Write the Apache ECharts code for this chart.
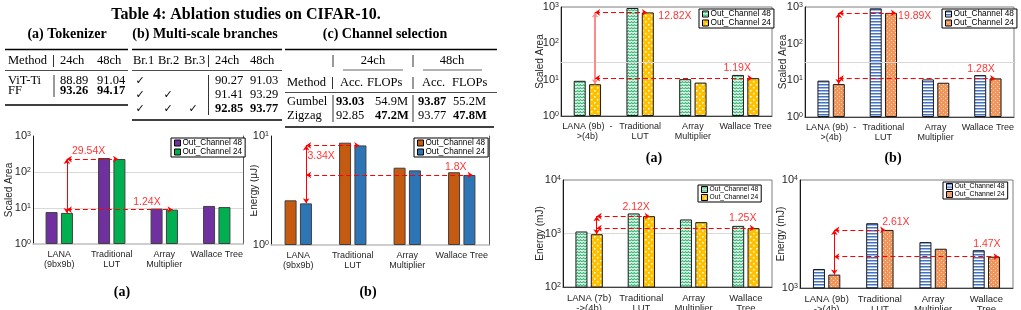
<!DOCTYPE html>
<html lang="en">
<head>
<meta charset="UTF-8">
<title>Ablation studies and hardware cost</title>
<script src="https://cdn.jsdelivr.net/npm/echarts@6/dist/echarts.min.js"></script>
<style>
  body { margin: 0; background: #fff; }
  #page { position: relative; width: 1021px; height: 310px; overflow: hidden; }
  #page > div { position: absolute; }
</style>
</head>
<body>
<div id="page"></div>
<script>
// ---------- table data ----------
var tokMethods = ['ViT-Ti', 'FF'];
var tok24 = ['88.89', '93.26'];
var tok48 = ['91.04', '94.17'];
var brChecks = [[1, 0, 0], [1, 1, 0], [1, 1, 1]];
var br24 = ['90.27', '91.41', '92.85'];
var br48 = ['91.03', '93.29', '93.77'];
var chMethods = ['Gumbel', 'Zigzag'];
var chAcc24 = ['93.03', '92.85'];
var chFlops24 = ['54.9M', '47.2M'];
var chAcc48 = ['93.87', '93.77'];
var chFlops48 = ['55.2M', '47.8M'];

// ---------- chart data ----------
var legendNames = ['Out_Channel 48', 'Out_Channel 24'];
var catsLeft = ['LANA\n(9bx9b)', 'Traditional\nLUT', 'Array\nMultiplier', 'Wallace Tree'];
var catsTop = ['LANA (9b)  -\n>(4b)', 'Traditional\nLUT', 'Array\nMultiplier', 'Wallace Tree'];
var catsBotA = ['LANA (7b)\n->(4b)', 'Traditional\nLUT', 'Array\nMultiplier', 'Wallace\nTree'];
var catsBotB = ['LANA (9b)\n->(4b)', 'Traditional\nLUT', 'Array\nMultiplier', 'Wallace\nTree'];

var areaL48 = [7.7, 245, 9.6, 11.4];
var areaL24 = [7.3, 229, 9.0, 10.6];
var energyL48 = [2.57, 8.68, 5.12, 4.65];
var energyL24 = [2.41, 8.2, 4.84, 4.39];
var areaRa48 = [9.3, 940, 10.3, 13.5];
var areaRa24 = [7.5, 710, 8.3, 11.0];
var areaRb48 = [9.8, 920, 10.6, 13.9];
var areaRb24 = [7.9, 690, 8.6, 11.3];
var energyRa48 = [1090, 2370, 1830, 1390];
var energyRa24 = [970, 2110, 1630, 1260];
var energyRb48 = [1500, 3980, 2660, 2240];
var energyRb24 = [1330, 3450, 2310, 1950];

var ratiosLa = ['29.54X', '1.24X'];
var ratiosLb = ['3.34X', '1.8X'];
var ratiosRa = ['12.82X', '1.19X'];
var ratiosRb = ['19.89X', '1.28X'];
var ratiosBa = ['2.12X', '1.25X'];
var ratiosBb = ['2.61X', '1.47X'];

var SANS = '"Liberation Sans", Arial, sans-serif';
var SERIF = '"Liberation Serif", "Times New Roman", serif';

// ---------- bar fill patterns ----------
function pattern(w, h, draw) {
    var c = document.createElement('canvas');
    c.width = w; c.height = h;
    draw(c.getContext('2d'));
    return { image: c, repeat: 'repeat' };
}
var greenWave = pattern(6, 6, function (g) {
    g.fillStyle = '#fff'; g.fillRect(0, 0, 6, 6);
    g.strokeStyle = '#3dbb7a'; g.lineWidth = 1.2;
    g.beginPath();
    g.moveTo(0, 2); g.lineTo(1.5, 0.5); g.lineTo(3, 2); g.lineTo(4.5, 0.5); g.lineTo(6, 2);
    g.moveTo(0, 5); g.lineTo(1.5, 3.5); g.lineTo(3, 5); g.lineTo(4.5, 3.5); g.lineTo(6, 5);
    g.stroke();
});
var yellowDots = pattern(6, 6, function (g) {
    g.fillStyle = '#ffc000'; g.fillRect(0, 0, 6, 6);
    g.fillStyle = '#fff';
    g.fillRect(0, 0, 1.5, 1.5); g.fillRect(3, 3, 1.5, 1.5);
});
var blueStripes = pattern(4, 3, function (g) {
    g.fillStyle = '#fff'; g.fillRect(0, 0, 4, 3);
    g.fillStyle = '#4472c4'; g.fillRect(0, 0, 4, 1.5);
});
var orangeDots = pattern(4, 4, function (g) {
    g.fillStyle = '#f0955a'; g.fillRect(0, 0, 4, 4);
    g.fillStyle = '#fde3d0';
    g.fillRect(0, 0, 1, 1); g.fillRect(2, 2, 1, 1);
});

// ---------- chart layouts ----------
var charts = [
    { region: [0, 130, 250, 180], grid: [33, 136, 243, 244], yMin: 1, yMax: 1000, yName: 'Scaled Area', nameGap: 19,
      cats: catsLeft, catFont: 9, s48: areaL48, s24: areaL24, colors: ['#7030a0', '#00b050'], border: '#404040',
      legend: [171, 138], legendFont: 8.2, split: true, box: false,
      ann: { vx: 0.645, x1: 1.62, x2: 2.66, mid: 2, vColor: '#ff0000', vWidth: 1 },
      ratios: ratiosLa, ratioPos: [[1.06, 380], [2.17, 14.5]], caption: ['(a)', 122, 292] },
    { region: [250, 130, 250, 180], grid: [271, 136, 489, 245], yMin: 1, yMax: 10, yName: 'Energy (\u03bcJ)', nameGap: 12,
      cats: catsLeft, catFont: 9, s48: energyL48, s24: energyL24, colors: ['#c55a11', '#2e75b6'], border: '#404040',
      legend: [414, 138], legendFont: 8.2, split: false, box: false,
      ann: { vx: 0.645, x1: 1.62, x2: 3.70, mid: 3, vColor: '#ff0000', vWidth: 1 },
      ratios: ratiosLb, ratioPos: [[0.92, 6.6], [3.39, 5.23]], caption: ['(b)', 368, 292] },
    { region: [510, 0, 265, 170], grid: [561, 7, 772, 116], yMin: 1, yMax: 1000, yName: 'Scaled Area', nameGap: 16,
      cats: catsTop, catFont: 9, s48: areaRa48, s24: areaRa24, colors: [greenWave, yellowDots], border: '#1a1a1a',
      legend: [699, 9], legendFont: 8.3, split: false, box: true, refLine: 31,
      ann: { vx: 0.645, x1: 1.63, x2: 3.63, mid: 3, vColor: '#ff8a8a', vWidth: 2 },
      ratios: ratiosRa, ratioPos: [[2.16, 578], [3.34, 21.4]], caption: ['(a)', 654, 158] },
    { region: [775, 0, 246, 170], grid: [805, 7, 1014, 117], yMin: 1, yMax: 1000, yName: 'Scaled Area', nameGap: 17,
      cats: catsTop, catFont: 9, s48: areaRb48, s24: areaRb24, colors: [blueStripes, orangeDots], border: '#1a1a1a',
      legend: [942, 9], legendFont: 8.3, split: false, box: true, refLine: 31,
      ann: { vx: 0.645, x1: 1.74, x2: 3.64, mid: 3, vColor: '#ff0000', vWidth: 1 },
      ratios: ratiosRb, ratioPos: [[2.1, 565], [3.37, 20]], caption: ['(b)', 893, 158] },
    { region: [510, 170, 265, 140], grid: [563, 180, 772, 287], yMin: 100, yMax: 10000, yName: 'Energy (mJ)', nameGap: 18,
      cats: catsBotA, catFont: 9.5, s48: energyRa48, s24: energyRa24, colors: [greenWave, yellowDots], border: '#1a1a1a',
      legend: [698, 185], legendFont: 6.7, split: true, box: true,
      ann: { vx: 0.645, x1: 1.66, x2: 3.67, mid: 3, vColor: '#ff0000', vWidth: 1 },
      ratios: ratiosBa, ratioPos: [[1.40, 3160], [3.44, 1920]] },
    { region: [775, 170, 246, 140], grid: [800, 180, 1013, 288], yMin: 1000, yMax: 10000, yName: 'Energy (mJ)', nameGap: 14,
      cats: catsBotB, catFont: 9.5, s48: energyRb48, s24: energyRb24, colors: [blueStripes, orangeDots], border: '#1a1a1a',
      legend: [943, 182], legendFont: 6.9, split: false, box: true,
      ann: { vx: 0.645, x1: 1.60, x2: 3.73, mid: 3, vColor: '#ff0000', vWidth: 1 },
      ratios: ratiosBb, ratioPos: [[1.80, 4110], [3.51, 2550]] }
];

function chartOption(c) {
    var R = c.region, G = c.grid, a = c.ann;
    var hi = c.s24[1], lo = c.s24[0], mid = c.s24[a.mid];
    var bar = function (name, data, color) {
        return {
            type: 'bar', name: name, data: data, barWidth: 12, barGap: '28%',
            itemStyle: { color: color, borderColor: c.border, borderWidth: 1 }
        };
    };
    var b48 = bar(legendNames[0], c.s48, c.colors[0]);
    var b24 = bar(legendNames[1], c.s24, c.colors[1]);
    if (c.refLine) {
        b48.markLine = {
            silent: true, symbol: 'none', label: { show: false },
            lineStyle: { color: '#d9d9d9', type: 'solid', width: 1 },
            data: [{ yAxis: c.refLine }]
        };
    }
    var dash = { color: '#ff0000', width: 1, type: [5, 3], opacity: 1 };
    var graphic = [];
    if (c.caption) {
        graphic.push({
            type: 'text', x: c.caption[1] - R[0], y: c.caption[2] - R[1],
            style: { text: c.caption[0], fontSize: 14, fontWeight: 'bold', fontFamily: SERIF, fill: '#000',
                     textAlign: 'center', align: 'center', textVerticalAlign: 'middle', verticalAlign: 'middle' }
        });
    }
    return {
        animation: false,
        textStyle: { fontFamily: SANS },
        grid: { left: G[0] - R[0], top: G[1] - R[1], width: G[2] - G[0], height: G[3] - G[1],
                containLabel: false, outerBoundsMode: 'none',
                show: c.box, borderColor: '#7f7f7f', borderWidth: 1 },
        legend: {
            data: legendNames, orient: 'vertical', left: c.legend[0] - R[0], top: c.legend[1] - R[1],
            icon: 'rect', itemWidth: 6, itemHeight: 6, itemGap: 1, padding: [1, 3],
            borderColor: '#000', borderWidth: 1, backgroundColor: '#fff',
            itemStyle: { borderColor: '#000', borderWidth: 1 },
            textStyle: { fontSize: c.legendFont, color: '#000', fontFamily: SANS, padding: [0, 0, 0, -3] },
            selectedMode: false
        },
        xAxis: [
            { type: 'category', data: c.cats,
              axisLine: { lineStyle: { color: c.box ? '#404040' : '#bfbfbf', width: c.box ? 1 : 1.5 } },
              axisTick: { show: false },
              axisLabel: { interval: 0, fontSize: c.catFont, lineHeight: 10, color: '#262626', margin: 6, fontFamily: SANS } },
            { type: 'value', min: 0, max: 4, show: false }
        ],
        yAxis: [
            { type: 'log', logBase: 10, min: c.yMin, max: c.yMax,
              name: c.yName, nameLocation: 'middle', nameGap: c.nameGap, nameMoveOverlap: false,
              nameTextStyle: { fontSize: 10, color: '#262626', fontFamily: SANS },
              axisLine: { show: true, lineStyle: { color: '#1a1a1a' } },
              axisTick: { show: false },
              axisLabel: {
                  margin: 2, fontSize: 11, color: '#262626', fontFamily: SANS,
                  formatter: function (v) { return '10{s|' + Math.round(Math.log10(v)) + '}'; },
                  rich: { s: { fontSize: 7, verticalAlign: 'top', color: '#262626', fontFamily: SANS } }
              },
              splitLine: { show: c.split, showMinLine: false, showMaxLine: false, lineStyle: { color: '#d9d9d9' } } },
            { type: 'value', position: 'right', min: 0, max: 1,
              axisLine: { show: !c.box, lineStyle: { color: '#595959' } },
              axisLabel: { show: false }, axisTick: { show: false }, splitLine: { show: false } }
        ],
        series: [
            b48, b24,
            { type: 'lines', coordinateSystem: 'cartesian2d', xAxisIndex: 1, yAxisIndex: 0, silent: true, z: 10,
              symbol: ['arrow', 'arrow'], symbolSize: 5,
              itemStyle: { color: '#ff0000' },
              lineStyle: dash,
              data: [
                  { coords: [[a.vx, lo], [a.vx, hi]], lineStyle: { type: 'solid', color: a.vColor, width: a.vWidth, opacity: 1 } },
                  { coords: [[a.vx, hi], [a.x1, hi]], lineStyle: dash },
                  { coords: [[a.vx, mid], [a.x2, mid]], lineStyle: dash }
              ] },
            { type: 'scatter', xAxisIndex: 1, yAxisIndex: 0, silent: true, z: 11, symbolSize: 1,
              itemStyle: { color: 'rgba(0,0,0,0)' },
              label: { show: true, position: 'inside', color: '#ff0000', fontSize: 10.5, fontFamily: SANS,
                       formatter: function (p) { return p.name; } },
              data: c.ratios.map(function (t, i) { return { name: t, value: c.ratioPos[i] }; }) }
        ],
        graphic: graphic
    };
}

var page = document.getElementById('page');
charts.forEach(function (c) {
    var el = document.createElement('div');
    el.style.left = c.region[0] + 'px'; el.style.top = c.region[1] + 'px';
    el.style.width = c.region[2] + 'px'; el.style.height = c.region[3] + 'px';
    page.appendChild(el);
    echarts.init(el).setOption(chartOption(c));
});

// ---------- table (drawn as graphic elements) ----------
var T = [];
function tx(x, y, s, o) {
    o = o || {};
    T.push({ type: 'text', x: x, y: y, style: {
        text: s, fontSize: o.size || 12.5, fontWeight: o.bold ? 'bold' : 'normal',
        fontFamily: o.font || SERIF, fill: '#000',
        textAlign: o.align || 'left', align: o.align || 'left',
        textVerticalAlign: 'middle', verticalAlign: 'middle' } });
}
function hl(x1, x2, y, w) {
    T.push({ type: 'line', shape: { x1: x1, y1: y, x2: x2, y2: y }, style: { stroke: '#000', lineWidth: w } });
}
function vl(x, y1, y2) {
    T.push({ type: 'line', shape: { x1: x, y1: y1, x2: x, y2: y2 }, style: { stroke: '#000', lineWidth: 0.8 } });
}

tx(246, 15, 'Table 4: Ablation studies on CIFAR-10.', { bold: true, size: 16, align: 'center' });
tx(67, 34, '(a) Tokenizer', { bold: true, size: 14, align: 'center' });
tx(205, 34, '(b) Multi-scale branches', { bold: true, size: 14, align: 'center' });
tx(385, 34, '(c) Channel selection', { bold: true, size: 14, align: 'center' });

// (a) tokenizer
hl(5, 128, 49.5, 1.3); hl(5, 128, 70.5, 0.7); hl(5, 128, 105, 1.3);
tx(8, 61, 'Method'); vl(53.5, 55, 67); tx(60, 61, '24ch'); tx(97, 61, '48ch');
vl(54, 75, 97);
tokMethods.forEach(function (m, i) {
    var y = 81 + i * 10, b = i === 1;
    tx(8, y, m); tx(60, y, tok24[i], { bold: b }); tx(97, y, tok48[i], { bold: b });
});

// (b) multi-scale branches
hl(132, 282, 49.5, 1.3); hl(132, 282, 70.5, 0.7); hl(132, 282, 120, 1.3);
tx(133, 61, 'Br.1'); tx(158, 61, 'Br.2'); tx(184, 61, 'Br.3'); vl(208.5, 55, 67);
tx(215, 61, '24ch'); tx(250, 61, '48ch');
vl(208.5, 75, 115);
var checkX = [140, 168, 193];
brChecks.forEach(function (row, i) {
    var y = 81 + i * 14, b = i === 2;
    row.forEach(function (on, j) { if (on) tx(checkX[j], y, '\u2713', { font: '"DejaVu Sans", sans-serif', size: 11, align: 'center' }); });
    tx(215, y, br24[i], { bold: b }); tx(250, y, br48[i], { bold: b });
});

// (c) channel selection
hl(285, 497, 49.5, 1.3); hl(343, 403, 70, 0.6); hl(423, 482, 70, 0.6); hl(285, 497, 92.5, 0.7); hl(285, 494, 127, 1.3);
vl(333, 55, 67); tx(373, 61, '24ch', { align: 'center' }); vl(413, 55, 67); tx(452, 61, '48ch', { align: 'center' });
tx(287, 83, 'Method'); vl(332.5, 77, 89); tx(340, 83, 'Acc.'); tx(367, 83, 'FLOPs'); vl(413, 77, 89);
tx(422, 83, 'Acc.'); tx(452, 83, 'FLOPs');
vl(333, 95, 122); vl(413, 95, 122);
chMethods.forEach(function (m, i) {
    var y = 102 + i * 14;
    tx(287, y, m);
    tx(336, y, chAcc24[i], { bold: i === 0 }); tx(375, y, chFlops24[i], { bold: i === 1 });
    tx(418, y, chAcc48[i], { bold: i === 0 }); tx(453, y, chFlops48[i], { bold: i === 1 });
});

var tEl = document.createElement('div');
tEl.style.left = '0px'; tEl.style.top = '0px'; tEl.style.width = '505px'; tEl.style.height = '130px';
page.appendChild(tEl);
echarts.init(tEl).setOption({ animation: false, graphic: T });
</script>
</body>
</html>
